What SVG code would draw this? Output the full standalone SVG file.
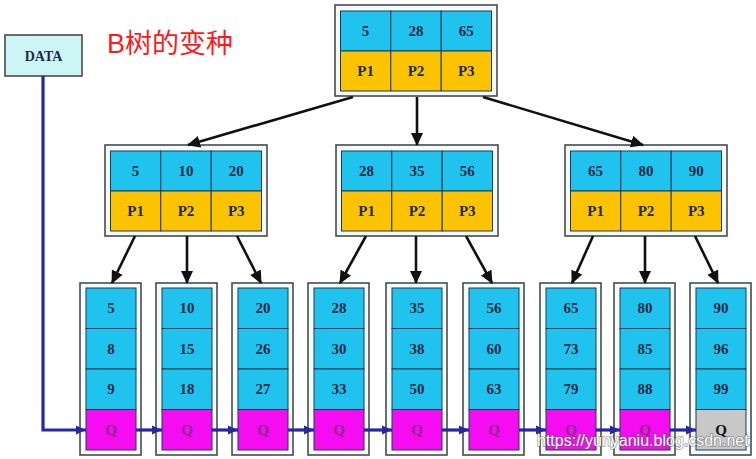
<svg xmlns="http://www.w3.org/2000/svg" width="756" height="459" viewBox="0 0 756 459">
<style>
.outer{fill:#f3fafa;stroke:#4a4a4a;stroke-width:1.6}
.c{fill:#1fc3ee;stroke:#1d3a55;stroke-width:1}
.y{fill:#fcc300;stroke:#1d3a55;stroke-width:1}
.m{fill:#f50cf0;stroke:#1d3a55;stroke-width:1}
.g{fill:#c8c8c8;stroke:#1d3a55;stroke-width:1}
text{font-family:"Liberation Serif","Times New Roman",serif;font-weight:bold;font-size:15px;fill:#1a2a48;text-anchor:middle}
.q{fill:#8a2a8a}
.qk{fill:#111}
.tree{stroke:#111;stroke-width:2.6;fill:none;marker-end:url(#ab)}
.link{stroke:#2626a6;stroke-width:3.2;fill:none;marker-end:url(#au)}
</style>
<defs>
<marker id="ab" markerUnits="userSpaceOnUse" markerWidth="13" markerHeight="13" viewBox="0 0 13 13" refX="12" refY="6.5" orient="auto">
<path d="M0,0.5 L13,6.5 L0,12.5 Z" fill="#111"/>
</marker>
<marker id="au" markerUnits="userSpaceOnUse" markerWidth="10" markerHeight="10" viewBox="0 0 10 10" refX="10" refY="5" orient="auto">
<path d="M0,0.5 L10,5 L0,9.5 Z" fill="#2626a6"/>
</marker>
</defs>
<rect width="756" height="459" fill="#ffffff"/>

<g id="title"><text x="107" y="53" style="font-family:'Liberation Sans','Noto Sans CJK SC',sans-serif;font-weight:normal;font-size:27px;fill:#ff1a1a;text-anchor:start">B树的变种</text></g>

<g id="data">
<rect x="5" y="35" width="77" height="41" fill="#ccf6f6" stroke="#4a4a4a" stroke-width="1.6"/>
<text x="43.5" y="61" style="font-size:14px">DATA</text>
</g>

<g id="root" transform="translate(335,5)">
<rect class="outer" x="0" y="0" width="162" height="91"/>
<rect class="c" x="5.5" y="6" width="50.3" height="40"/><rect class="c" x="55.8" y="6" width="50.4" height="40"/><rect class="c" x="106.2" y="6" width="50.3" height="40"/>
<rect class="y" x="5.5" y="46" width="50.3" height="40"/><rect class="y" x="55.8" y="46" width="50.4" height="40"/><rect class="y" x="106.2" y="46" width="50.3" height="40"/>
<text x="30.6" y="31">5</text><text x="81" y="31">28</text><text x="131.3" y="31">65</text>
<text x="30.6" y="71">P1</text><text x="81" y="71">P2</text><text x="131.3" y="71">P3</text>
</g>

<g id="mid1" transform="translate(105,145)">
<rect class="outer" x="0" y="0" width="162" height="91"/>
<rect class="c" x="5.5" y="6" width="50.3" height="40"/><rect class="c" x="55.8" y="6" width="50.4" height="40"/><rect class="c" x="106.2" y="6" width="50.3" height="40"/>
<rect class="y" x="5.5" y="46" width="50.3" height="40"/><rect class="y" x="55.8" y="46" width="50.4" height="40"/><rect class="y" x="106.2" y="46" width="50.3" height="40"/>
<text x="30.6" y="31">5</text><text x="81" y="31">10</text><text x="131.3" y="31">20</text>
<text x="30.6" y="71">P1</text><text x="81" y="71">P2</text><text x="131.3" y="71">P3</text>
</g>

<g id="mid2" transform="translate(336,145)">
<rect class="outer" x="0" y="0" width="162" height="91"/>
<rect class="c" x="5.5" y="6" width="50.3" height="40"/><rect class="c" x="55.8" y="6" width="50.4" height="40"/><rect class="c" x="106.2" y="6" width="50.3" height="40"/>
<rect class="y" x="5.5" y="46" width="50.3" height="40"/><rect class="y" x="55.8" y="46" width="50.4" height="40"/><rect class="y" x="106.2" y="46" width="50.3" height="40"/>
<text x="30.6" y="31">28</text><text x="81" y="31">35</text><text x="131.3" y="31">56</text>
<text x="30.6" y="71">P1</text><text x="81" y="71">P2</text><text x="131.3" y="71">P3</text>
</g>

<g id="mid3" transform="translate(565,145)">
<rect class="outer" x="0" y="0" width="162" height="91"/>
<rect class="c" x="5.5" y="6" width="50.3" height="40"/><rect class="c" x="55.8" y="6" width="50.4" height="40"/><rect class="c" x="106.2" y="6" width="50.3" height="40"/>
<rect class="y" x="5.5" y="46" width="50.3" height="40"/><rect class="y" x="55.8" y="46" width="50.4" height="40"/><rect class="y" x="106.2" y="46" width="50.3" height="40"/>
<text x="30.6" y="31">65</text><text x="81" y="31">80</text><text x="131.3" y="31">90</text>
<text x="30.6" y="71">P1</text><text x="81" y="71">P2</text><text x="131.3" y="71">P3</text>
</g>

<g id="leaf1" transform="translate(80,283)">
<rect class="outer" x="0" y="0" width="61" height="172"/>
<rect class="c" x="6" y="5" width="50" height="40.5"/><rect class="c" x="6" y="45.5" width="50" height="40.5"/><rect class="c" x="6" y="86" width="50" height="40.5"/><rect class="m" x="6" y="126.5" width="50" height="40.5"/>
<text x="31" y="30">5</text><text x="31" y="70.5">8</text><text x="31" y="111">9</text><text class="q" x="31" y="151.5">Q</text>
</g>
<g id="leaf2" transform="translate(156,283)">
<rect class="outer" x="0" y="0" width="61" height="172"/>
<rect class="c" x="6" y="5" width="50" height="40.5"/><rect class="c" x="6" y="45.5" width="50" height="40.5"/><rect class="c" x="6" y="86" width="50" height="40.5"/><rect class="m" x="6" y="126.5" width="50" height="40.5"/>
<text x="31" y="30">10</text><text x="31" y="70.5">15</text><text x="31" y="111">18</text><text class="q" x="31" y="151.5">Q</text>
</g>
<g id="leaf3" transform="translate(232,283)">
<rect class="outer" x="0" y="0" width="61" height="172"/>
<rect class="c" x="6" y="5" width="50" height="40.5"/><rect class="c" x="6" y="45.5" width="50" height="40.5"/><rect class="c" x="6" y="86" width="50" height="40.5"/><rect class="m" x="6" y="126.5" width="50" height="40.5"/>
<text x="31" y="30">20</text><text x="31" y="70.5">26</text><text x="31" y="111">27</text><text class="q" x="31" y="151.5">Q</text>
</g>
<g id="leaf4" transform="translate(308,283)">
<rect class="outer" x="0" y="0" width="61" height="172"/>
<rect class="c" x="6" y="5" width="50" height="40.5"/><rect class="c" x="6" y="45.5" width="50" height="40.5"/><rect class="c" x="6" y="86" width="50" height="40.5"/><rect class="m" x="6" y="126.5" width="50" height="40.5"/>
<text x="31" y="30">28</text><text x="31" y="70.5">30</text><text x="31" y="111">33</text><text class="q" x="31" y="151.5">Q</text>
</g>
<g id="leaf5" transform="translate(386,283)">
<rect class="outer" x="0" y="0" width="61" height="172"/>
<rect class="c" x="6" y="5" width="50" height="40.5"/><rect class="c" x="6" y="45.5" width="50" height="40.5"/><rect class="c" x="6" y="86" width="50" height="40.5"/><rect class="m" x="6" y="126.5" width="50" height="40.5"/>
<text x="31" y="30">35</text><text x="31" y="70.5">38</text><text x="31" y="111">50</text><text class="q" x="31" y="151.5">Q</text>
</g>
<g id="leaf6" transform="translate(463,283)">
<rect class="outer" x="0" y="0" width="61" height="172"/>
<rect class="c" x="6" y="5" width="50" height="40.5"/><rect class="c" x="6" y="45.5" width="50" height="40.5"/><rect class="c" x="6" y="86" width="50" height="40.5"/><rect class="m" x="6" y="126.5" width="50" height="40.5"/>
<text x="31" y="30">56</text><text x="31" y="70.5">60</text><text x="31" y="111">63</text><text class="q" x="31" y="151.5">Q</text>
</g>
<g id="leaf7" transform="translate(540,283)">
<rect class="outer" x="0" y="0" width="61" height="172"/>
<rect class="c" x="6" y="5" width="50" height="40.5"/><rect class="c" x="6" y="45.5" width="50" height="40.5"/><rect class="c" x="6" y="86" width="50" height="40.5"/><rect class="m" x="6" y="126.5" width="50" height="40.5"/>
<text x="31" y="30">65</text><text x="31" y="70.5">73</text><text x="31" y="111">79</text><text class="q" x="31" y="151.5">Q</text>
</g>
<g id="leaf8" transform="translate(614,283)">
<rect class="outer" x="0" y="0" width="61" height="172"/>
<rect class="c" x="6" y="5" width="50" height="40.5"/><rect class="c" x="6" y="45.5" width="50" height="40.5"/><rect class="c" x="6" y="86" width="50" height="40.5"/><rect class="m" x="6" y="126.5" width="50" height="40.5"/>
<text x="31" y="30">80</text><text x="31" y="70.5">85</text><text x="31" y="111">88</text><text class="q" x="31" y="151.5">Q</text>
</g>
<g id="leaf9" transform="translate(690,283)">
<rect class="outer" x="0" y="0" width="61" height="172"/>
<rect class="c" x="6" y="5" width="50" height="40.5"/><rect class="c" x="6" y="45.5" width="50" height="40.5"/><rect class="c" x="6" y="86" width="50" height="40.5"/><rect class="g" x="6" y="126.5" width="50" height="40.5"/>
<text x="31" y="30">90</text><text x="31" y="70.5">96</text><text x="31" y="111">99</text><text class="qk" x="31" y="151.5">Q</text>
</g>

<g id="connectors">
<line class="tree" x1="353" y1="97" x2="188" y2="145"/>
<line class="tree" x1="417" y1="97" x2="417" y2="145"/>
<line class="tree" x1="483" y1="97" x2="643" y2="145"/>
<line class="tree" x1="135" y1="236" x2="112" y2="283"/>
<line class="tree" x1="187" y1="236" x2="187" y2="283"/>
<line class="tree" x1="237" y1="236" x2="261" y2="283"/>
<line class="tree" x1="366" y1="236" x2="340" y2="283"/>
<line class="tree" x1="416" y1="236" x2="416" y2="283"/>
<line class="tree" x1="466" y1="236" x2="492" y2="283"/>
<line class="tree" x1="593" y1="236" x2="572" y2="283"/>
<line class="tree" x1="645" y1="236" x2="645" y2="283"/>
<line class="tree" x1="695" y1="236" x2="718" y2="283"/>
<path class="link" d="M43,76 V430 H86"/>
<line class="link" x1="136" y1="430" x2="162" y2="430"/>
<line class="link" x1="212" y1="430" x2="238" y2="430"/>
<line class="link" x1="288" y1="430" x2="314" y2="430"/>
<line class="link" x1="364" y1="430" x2="392" y2="430"/>
<line class="link" x1="442" y1="430" x2="469" y2="430"/>
<line class="link" x1="519" y1="430" x2="546" y2="430"/>
<line class="link" x1="596" y1="430" x2="620" y2="430"/>
<line class="link" x1="670" y1="430" x2="696" y2="430"/>
</g>

<g id="watermark"><text x="537" y="446" style="font-family:'Liberation Sans',Arial,sans-serif;font-weight:normal;font-size:16px;fill:#ffffff;stroke:#555;stroke-width:1.6;stroke-opacity:0.55;paint-order:stroke;text-anchor:start">https://yunyaniu.blog.csdn.net</text></g>
</svg>
